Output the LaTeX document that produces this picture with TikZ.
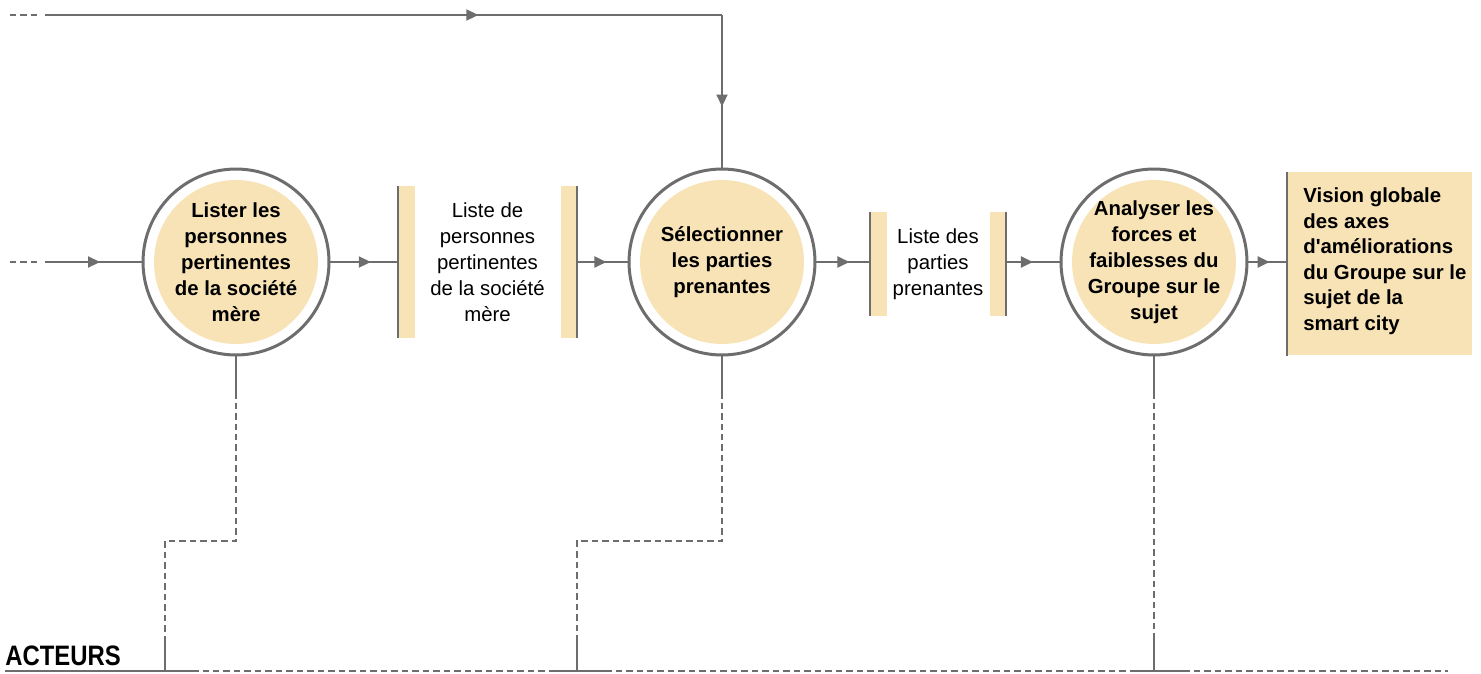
\documentclass[tikz,border=0pt]{standalone}
\usepackage{fontspec}
\setmainfont{Liberation Sans}
\newfontfamily\narrowfont[FakeStretch=0.85]{Liberation Sans}
\usetikzlibrary{arrows.meta,decorations.markings}
\definecolor{linegray}{HTML}{6D6D6D}
\definecolor{sandfill}{HTML}{F8E3B6}
\tikzset{
  conn/.style={draw=linegray, color=linegray, line width=1.2pt},
  dashconn/.style={draw=linegray, line width=0.9pt, dash pattern=on 0.13cm off 0.08cm},
  midarrow/.style={postaction={decorate}, decoration={markings,
    mark=at position #1 with {\arrow{Triangle[length=0.24cm,width=0.22cm]}}}},
  midarrow/.default=0.5,
  process/.style={circle, draw=linegray, line width=1.7pt, fill=white,
    minimum size=3.72cm, inner sep=0pt, align=center,
    font=\bfseries\fontsize{11.6}{14.8}\selectfont,
    path picture={\fill[sandfill] (path picture bounding box.center) circle (1.64cm);}},
  store/.style={rectangle, inner sep=0pt, align=center, font=\fontsize{11.6}{14.8}\selectfont},
  outbox/.style={rectangle, fill=sandfill, inner sep=0pt, anchor=north west},
  outtext/.style={align=left, inner sep=0pt, font=\bfseries\fontsize{11.6}{14.5}\selectfont},
}
\begin{document}
\begin{tikzpicture}[x=0.02cm, y=-0.02cm]
  \useasboundingbox (0,0) rectangle (1481,673);
  % processes
  \node[process] (c1) at (236,262) {Lister les\\personnes\\pertinentes\\de la société\\mère};
  \node[process] (c2) at (722,262) {Sélectionner\\les parties\\prenantes};
  \node[process] (c3) at (1154,262) {Analyser les\\forces et\\faiblesses du\\Groupe sur le\\sujet};
  % data stores
  \node[store, minimum width=3.58cm, minimum height=3.02cm] (s1) at (487.5,262) {Liste de\\personnes\\pertinentes\\de la société\\mère};
  \node[store, minimum width=2.72cm, minimum height=2.08cm] (s2) at (938,264) {Liste des\\parties\\prenantes};
  \foreach \s in {s1,s2} {
    \fill[sandfill] (\s.north west) rectangle ([xshift=0.34cm]\s.south west);
    \fill[sandfill] ([xshift=-0.32cm]\s.north east) rectangle (\s.south east);
    \draw[conn] (\s.north west) -- (\s.south west);
    \draw[conn] (\s.north east) -- (\s.south east);
  }
  % output
  \node[outbox, minimum width=3.7cm, minimum height=3.66cm] (out) at (1287,172) {};
  \node[outtext, anchor=west] (outtxt) at ([xshift=0.32cm,yshift=0.05cm]out.west) {Vision globale\\des axes\\d\textquotesingle améliorations\\du Groupe sur le\\sujet de la\\smart city};
  \draw[conn] (out.north west) -- (out.south west);
  % flows
  \coordinate (in1) at (45,262);
  \coordinate (in2) at (45,15);
  \coordinate (top) at (722,15);
  \draw[dashconn] (10,262) -- (40,262);
  \draw[dashconn] (10,15) -- (40,15);
  \draw[conn, midarrow=0.57] (in1) -- (c1.west);
  \draw[conn, midarrow=0.64] (in2) -- (top);
  \draw[conn, midarrow=0.6] (top) -- (c2.north);
  \draw[conn, midarrow=0.6] (c1.east) -- (c1.east -| s1.west);
  \draw[conn, midarrow=0.58] (c2.west -| s1.east) -- (c2.west);
  \draw[conn, midarrow=0.62] (c2.east) -- (c2.east -| s2.west);
  \draw[conn, midarrow=0.5] (c3.west -| s2.east) -- (c3.west);
  \draw[conn, midarrow=0.55] (c3.east) -- (c3.east -| out.west);
  % actors
  \node[anchor=base west, inner sep=0pt, font=\narrowfont\bfseries\fontsize{16}{18}\selectfont] (acteurs) at (5,665) {ACTEURS};
  \coordinate (act1) at (165,671);
  \coordinate (act2) at (577,671);
  \coordinate (act3) at (1154,671);
  \draw[conn] (5,671) -- (192,671);
  \draw[dashconn] (192,671) -- (551,671);
  \draw[conn] (551,671) -- (605,671);
  \draw[dashconn] (605,671) -- (1130,671);
  \draw[conn] (1130,671) -- (1183,671);
  \draw[dashconn] (1183,671) -- (1448,671);
  \draw[conn] (c1.south) -- (236,392);
  \draw[dashconn] (236,392) -- (236,541) -| (165,638);
  \draw[conn] (165,638) -- (act1);
  \draw[conn] (c2.south) -- (722,392);
  \draw[dashconn] (722,392) -- (722,541) -| (577,638);
  \draw[conn] (577,638) -- (act2);
  \draw[conn] (c3.south) -- (1154,392);
  \draw[dashconn] (1154,392) -- (1154,638);
  \draw[conn] (1154,638) -- (act3);
\end{tikzpicture}
\end{document}
